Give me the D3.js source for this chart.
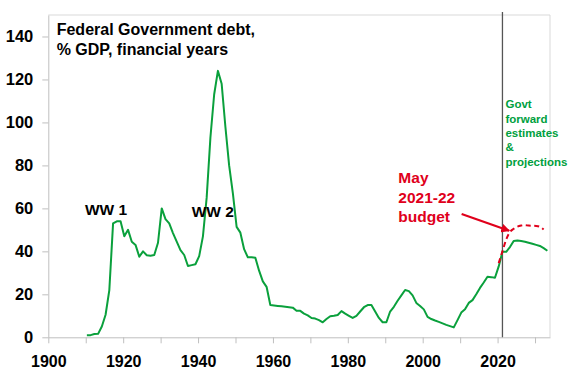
<!DOCTYPE html>
<html>
<head>
<meta charset="utf-8">
<script src="https://cdn.jsdelivr.net/npm/d3@7/dist/d3.min.js"></script>
<style>
  html, body { margin: 0; padding: 0; background: #fff; }
  svg { display: block; font-family: "Liberation Sans", Arial, sans-serif; }
</style>
</head>
<body>
<svg id="chart" width="570" height="380"></svg>
<script>
// ---- data ----
const years = d3.range(1910, 2034);
const debt = [
  1, 1, 1.5, 1.6, 5, 10.5, 22, 53, 54, 54,            // 1910-1919
  47, 50, 44.5, 43, 37.5, 40, 38.2, 38, 38.3, 44,      // 1920-1929
  60, 55, 53, 48.5, 44.5, 40.6, 38.3, 33.2, 33.6, 34,  // 1930-1939
  37.8, 47, 65, 93, 113, 124, 118, 98, 80, 67,         // 1940-1949
  51.4, 48.7, 41, 37.2, 37.3, 37, 31, 26, 23.5, 15,    // 1950-1959
  14.8, 14.6, 14.4, 14.2, 14, 13.8, 12.4, 12.3, 11, 10.2, // 1960-1969
  9, 8.7, 8, 7, 8.5, 9.8, 10, 10.4, 12.2, 11,          // 1970-1979
  10, 9, 10, 12, 14, 15, 15, 12, 9, 7,                 // 1980-1989
  7, 12, 14.2, 17, 19.5, 22, 21.5, 19.5, 16, 14.6,     // 1990-1999
  13, 9.5, 8.5, 7.8, 7.2, 6.5, 5.8, 5.2, 4.6, 8,       // 2000-2009
  11.5, 13, 16, 17.3, 20, 23, 25.5, 28.2, 28, 27.7,    // 2010-2019
  33, 39.8, 39.8, 42, 44.8, 45, 44.8, 44.5, 44, 43.5,  // 2020-2029
  43, 42.5, 41.5, 40.3                                 // 2030-2033
];
const budgetYears = d3.range(2020, 2033);
const budgetDebt = [34.5, 40, 45.5, 49, 50.5, 51.5, 52, 52.2, 52, 51.9, 51.8, 51.4, 50.2];

const yTicks = [0, 20, 40, 60, 80, 100, 120, 140];
const xTicks = d3.range(1900, 2031, 10);
const xLabelled = [1900, 1920, 1940, 1960, 1980, 2000, 2020];

const titleLines = ["Federal Government debt,", "% GDP, financial years"];
const forwardLines = ["Govt", "forward", "estimates", "&", "projections"];
const budgetLines = ["May", "2021-22", "budget"];
const forecastStart = 2021.3;

// ---- layout ----
const svg = d3.select("#chart");
const pLeft = 48.3, pRight = 550, pTop = 15, pBottom = 337.3;
const x = d3.scaleLinear().domain([1900, 2034]).range([pLeft, pRight]);
const y = d3.scaleLinear().domain([0, 150]).range([pBottom, pTop]);
const off = 0.3; // financial-year offset

const green = "#0aa03c", red = "#e0001b";

// frame (top & right)
svg.append("line").attr("x1", pLeft).attr("x2", pRight).attr("y1", pTop).attr("y2", pTop)
  .attr("stroke", "#d9d9d9").attr("stroke-width", 1);
svg.append("line").attr("x1", pRight).attr("x2", pRight).attr("y1", pTop).attr("y2", pBottom)
  .attr("stroke", "#d9d9d9").attr("stroke-width", 1);

// y axis
const yAxis = svg.append("g").attr("transform", `translate(${pLeft},0)`)
  .call(d3.axisLeft(y).tickValues(yTicks).tickSize(6).tickPadding(9).tickSizeOuter(0));
yAxis.select(".domain").attr("stroke", "#bfbfbf");
yAxis.selectAll(".tick line").attr("stroke", "#bfbfbf");
yAxis.selectAll("text").attr("font-size", "16.5px").attr("font-weight", "bold")
  .attr("fill", "#000").attr("font-family", "Liberation Sans, Arial, sans-serif");

// x axis
const xAxis = svg.append("g").attr("transform", `translate(0,${pBottom})`)
  .call(d3.axisBottom(x).tickValues(xTicks).tickSize(6).tickPadding(12).tickSizeOuter(0)
    .tickFormat(d => xLabelled.includes(d) ? d3.format("d")(d) : ""));
xAxis.select(".domain").attr("stroke", "#bfbfbf");
xAxis.selectAll(".tick line").attr("stroke", "#bfbfbf");
xAxis.selectAll("text").attr("font-size", "16px").attr("font-weight", "bold")
  .attr("fill", "#000").attr("font-family", "Liberation Sans, Arial, sans-serif");

// vertical forecast line
svg.append("line").attr("x1", x(forecastStart)).attr("x2", x(forecastStart))
  .attr("y1", pTop - 3).attr("y2", pBottom).attr("stroke", "#555").attr("stroke-width", 1.3);

// green line
const lineG = d3.line().x((d, i) => x(years[i] + off)).y(d => y(d));
svg.append("path").datum(debt).attr("d", lineG).attr("fill", "none")
  .attr("stroke", green).attr("stroke-width", 2).attr("stroke-linejoin", "round");

// red dashed
const lineR = d3.line().x((d, i) => x(budgetYears[i] + off)).y(d => y(d)).curve(d3.curveMonotoneX);
svg.append("path").datum(budgetDebt).attr("d", lineR).attr("fill", "none")
  .attr("stroke", red).attr("stroke-width", 2).attr("stroke-dasharray", "5,3.5");

// arrow
const defs = svg.append("defs");
defs.append("marker").attr("id", "arr").attr("viewBox", "0 0 10 10").attr("refX", 9).attr("refY", 5)
  .attr("markerWidth", 4).attr("markerHeight", 4).attr("orient", "auto")
  .append("path").attr("d", "M0,0L10,5L0,10z").attr("fill", red);
svg.append("line").attr("x1", x(2010.4)).attr("y1", y(57.4)).attr("x2", x(2023.1)).attr("y2", y(49.6))
  .attr("stroke", red).attr("stroke-width", 2.2).attr("marker-end", "url(#arr)");

// title
const tt = svg.append("text").attr("x", x(1900) + 8.4).attr("y", y(150) + 20)
  .attr("font-size", "16px").attr("font-weight", "bold").attr("fill", "#000");
titleLines.forEach((t, i) => tt.append("tspan").attr("x", x(1900) + 8.4).attr("dy", i ? 20 : 0).text(t));

// WW labels
svg.append("text").attr("x", x(1909.8)).attr("y", y(56.9)).attr("font-size", "15.5px")
  .attr("font-weight", "bold").attr("fill", "#000").text("WW 1");
svg.append("text").attr("x", x(1938.3)).attr("y", y(55.8)).attr("font-size", "15.5px")
  .attr("font-weight", "bold").attr("fill", "#000").text("WW 2");

// budget label
const bt = svg.append("text").attr("x", x(1993.5)).attr("y", y(71.6))
  .attr("font-size", "15.5px").attr("font-weight", "bold").attr("fill", red);
budgetLines.forEach((t, i) => bt.append("tspan").attr("x", x(1993.5)).attr("dy", i ? 19.2 : 0).text(t));

// forward estimates label
const ft = svg.append("text").attr("x", x(forecastStart) + 3).attr("y", y(106.5))
  .attr("font-size", "11.5px").attr("font-weight", "bold").attr("fill", "#00a040");
forwardLines.forEach((t, i) => ft.append("tspan").attr("x", x(forecastStart) + 3).attr("dy", i ? 14.3 : 0).text(t));
</script>
</body>
</html>
